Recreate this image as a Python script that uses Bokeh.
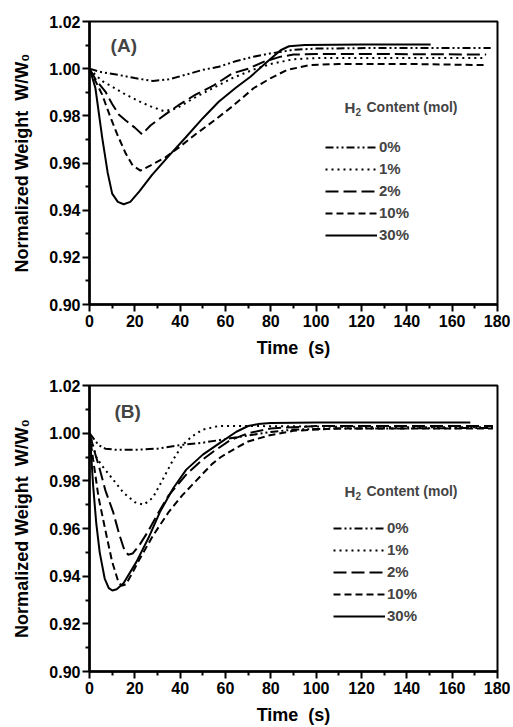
from bokeh.plotting import figure
from bokeh.layouts import column
from bokeh.models import (Range1d, FixedTicker, PrintfTickFormatter, Legend, LegendItem, Label)
from bokeh.embed import file_html
from bokeh.resources import INLINE

# ---------------- data ----------------
series_names = ["0%", "1%", "2%", "10%", "30%"]

# Panel A
a0_t = [0, 4.4, 13, 20, 28, 35, 42, 50, 57, 64, 72, 80, 90, 100, 130, 177]
a0_v = [1.000, 0.9987, 0.9973, 0.996, 0.9948, 0.9955, 0.9973, 0.9995, 1.0008, 1.003, 1.005, 1.0065, 1.008, 1.0085, 1.0088, 1.0088]
a1_t = [0, 3, 6, 10, 15, 21.8, 27, 32.8, 38, 47, 55, 63, 72, 80, 90, 100, 130, 175]
a1_v = [1.000, 0.997, 0.9945, 0.9924, 0.9895, 0.9862, 0.984, 0.982, 0.983, 0.988, 0.992, 0.996, 0.9995, 1.002, 1.004, 1.0045, 1.0045, 1.0045]
a2_t = [0, 3, 7, 10, 12.9, 16, 20, 23.2, 27, 33.5, 40, 46.8, 55, 63, 70, 77, 84, 90, 100, 130, 175]
a2_v = [1.000, 0.995, 0.9903, 0.985, 0.9806, 0.978, 0.975, 0.9722, 0.976, 0.9806, 0.985, 0.989, 0.993, 0.998, 1.000, 1.003, 1.005, 1.006, 1.0062, 1.0062, 1.006]
a10_t = [0, 2, 5.6, 9, 12.2, 16, 19, 22.5, 27, 33.5, 40, 46.8, 55, 63, 72.5, 80, 87, 97, 110, 140, 175]
a10_v = [1.000, 0.996, 0.989, 0.980, 0.9722, 0.964, 0.959, 0.9568, 0.959, 0.9624, 0.967, 0.9722, 0.978, 0.984, 0.9918, 0.996, 0.9994, 1.0015, 1.002, 1.002, 1.0015]
a30_t = [0, 1, 2.6, 4, 5.6, 8, 10, 12.5, 15.1, 18, 22, 27.6, 35, 42.4, 50, 57, 64.4, 71, 78.4, 84.3, 88, 95, 120, 150.5]
a30_v = [1.000, 0.997, 0.9918, 0.982, 0.9708, 0.956, 0.947, 0.9435, 0.9425, 0.9435, 0.948, 0.955, 0.963, 0.9708, 0.979, 0.986, 0.9918, 0.9966, 1.0029, 1.0078, 1.0095, 1.010, 1.0102, 1.0102]

# Panel B
b0_t = [0, 2, 4, 7, 12, 20, 30, 40, 50, 60, 70, 80, 90, 110, 140, 178]
b0_v = [1.000, 0.9975, 0.995, 0.9935, 0.993, 0.993, 0.9935, 0.995, 0.996, 0.9975, 0.999, 1.0005, 1.0015, 1.002, 1.002, 1.0022]
b1_t = [0, 3, 5, 10, 15, 20, 24, 28, 32, 37, 41, 45, 50, 57, 70, 100, 140, 178]
b1_v = [1.000, 0.990, 0.987, 0.981, 0.975, 0.971, 0.970, 0.973, 0.980, 0.989, 0.995, 0.9985, 1.0015, 1.003, 1.003, 1.0028, 1.0025, 1.0025]
b2_t = [0, 2, 4.5, 7, 10.4, 13, 15, 17, 19, 22, 26, 30, 35, 43, 50, 55, 62, 70, 80, 100, 140, 178]
b2_v = [1.000, 0.993, 0.985, 0.976, 0.967, 0.958, 0.952, 0.949, 0.9495, 0.953, 0.959, 0.966, 0.974, 0.983, 0.989, 0.9925, 0.997, 1.000, 1.002, 1.003, 1.003, 1.003]
b10_t = [0, 1.6, 4, 7.5, 10, 12.6, 14, 16, 19, 22, 28, 35, 41, 47, 54, 58, 65, 70, 79, 90, 110, 140, 178]
b10_v = [1.000, 0.989, 0.973, 0.957, 0.946, 0.938, 0.936, 0.9365, 0.9415, 0.947, 0.957, 0.967, 0.974, 0.980, 0.987, 0.990, 0.994, 0.9965, 0.999, 1.001, 1.002, 1.002, 1.002]
b30_t = [0, 0.8, 1.6, 3, 4.5, 6.7, 8.5, 10.1, 12, 15, 20.7, 26, 31, 37, 42.7, 50, 57.4, 64.8, 70, 74.3, 80, 100, 140, 168]
b30_v = [1.000, 0.990, 0.978, 0.962, 0.950, 0.939, 0.935, 0.934, 0.9345, 0.937, 0.946, 0.956, 0.9668, 0.977, 0.9847, 0.991, 0.9958, 1.0006, 1.003, 1.0038, 1.0043, 1.0045, 1.0045, 1.0045]

x_ticks = [0, 20, 40, 60, 80, 100, 120, 140, 160, 180]
x_minor = [10, 30, 50, 70, 90, 110, 130, 150, 170]
y_ticks = [0.90, 0.92, 0.94, 0.96, 0.98, 1.00, 1.02]
y_minor = [0.91, 0.93, 0.95, 0.97, 0.99, 1.01]

NB = "\u00a0"
title_main = "H"
title_sub = "2"
title_rest = "Content (mol)"
x_title = "Time" + NB + NB + "(s)"
y_title = "Normalized Weight" + NB + NB + "W/W\u2080"

FONT = "Liberation Sans"
dashes = ["8 3 2 3 2 3", "2 4", "13 5", "7 4", "solid"]


def make_panel(series, tag, tag_pos, title_pos, legend_loc, height, top, bottom, left):
    p = figure(width=510, height=height, output_backend="svg", toolbar_location=None,
               x_range=Range1d(0, 180), y_range=Range1d(0.90, 1.02),
               min_border_left=left, min_border_right=13, min_border_top=top,
               min_border_bottom=bottom)
    p.grid.visible = False
    p.outline_line_color = "black"
    p.outline_line_width = 2
    p.background_fill_color = "white"
    p.border_fill_color = "white"

    p.xaxis.ticker = FixedTicker(ticks=x_ticks, minor_ticks=x_minor)
    p.yaxis.ticker = FixedTicker(ticks=y_ticks, minor_ticks=y_minor)
    p.yaxis.formatter = PrintfTickFormatter(format="%.2f")
    for ax in (p.xaxis, p.yaxis):
        ax.axis_line_width = 2.5
        ax.major_tick_line_width = 2
        ax.minor_tick_line_width = 2
        ax.major_tick_in = 0
        ax.major_tick_out = 7
        ax.minor_tick_in = 0
        ax.minor_tick_out = 4
        ax.major_label_text_font = FONT
        ax.major_label_text_font_style = "bold"
        ax.major_label_text_font_size = "16px"
        ax.major_label_text_color = "black"
        ax.axis_label_text_font = FONT
        ax.axis_label_text_font_style = "bold"
        ax.axis_label_text_font_size = "18px"
        ax.axis_label_text_color = "black"
    p.xaxis.axis_label = x_title
    p.yaxis.axis_label = y_title
    p.xaxis.major_label_standoff = 3
    p.xaxis.axis_label_standoff = 8
    p.yaxis.major_label_standoff = 2
    p.yaxis.axis_label_standoff = 14

    items = []
    for (t, v), name, dash in zip(series, series_names, dashes):
        r = p.line(t, v, line_color="black", line_width=2, line_dash=dash)
        items.append(LegendItem(label=name, renderers=[r]))

    leg = Legend(items=items, location=legend_loc, border_line_color=None,
                 background_fill_alpha=0, padding=0, margin=0, spacing=5,
                 glyph_width=52, glyph_height=16, label_height=16, label_standoff=2,
                 label_text_font=FONT, label_text_font_style="bold",
                 label_text_font_size="15px")
    p.add_layout(leg)

    tx, ty = title_pos
    p.add_layout(Label(x=tx, y=ty, text=title_main, text_font=FONT,
                       text_font_style="bold", text_font_size="15px", text_baseline="middle"))
    p.add_layout(Label(x=tx, y=ty, x_offset=11, y_offset=-5, text=title_sub, text_font=FONT,
                       text_font_style="bold", text_font_size="10px", text_baseline="middle"))
    p.add_layout(Label(x=tx, y=ty, x_offset=22, text=title_rest, text_font=FONT,
                       text_font_style="bold", text_font_size="14px", text_baseline="middle"))
    p.add_layout(Label(x=tag_pos[0], y=tag_pos[1], text=tag,
                       text_font=FONT, text_font_style="bold", text_font_size="19px",
                       text_baseline="middle"))
    return p


pA = make_panel([(a0_t, a0_v), (a1_t, a1_v), (a2_t, a2_v), (a10_t, a10_v), (a30_t, a30_v)],
                "(A)", (9.3, 1.0097), (112.5, 0.9837), (236, 61), 360, 21, 53, 89)
pB = make_panel([(b0_t, b0_v), (b1_t, b1_v), (b2_t, b2_v), (b10_t, b10_v), (b30_t, b30_v)],
                "(B)", (11, 1.009), (112.5, 0.9756), (244, 47), 367, 25, 53, 88)

layout = column(pA, pB, spacing=0)
open("out.html", "w").write(file_html(layout, INLINE))
